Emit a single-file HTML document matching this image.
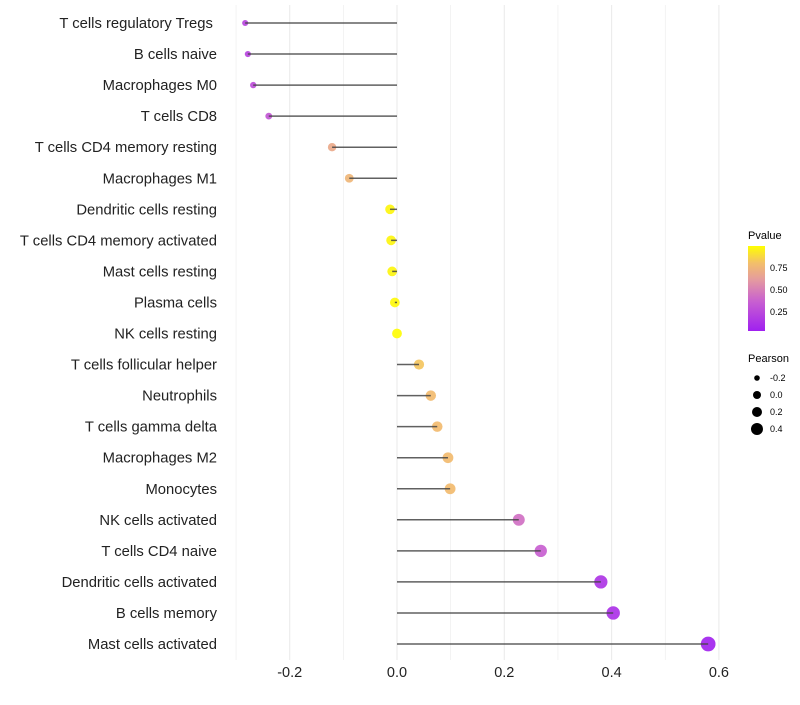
<!DOCTYPE html>
<html><head><meta charset="utf-8"><style>
body{margin:0;background:#fff;font-family:"Liberation Sans",sans-serif}
</style></head><body>
<svg id="chart" width="800" height="700" xmlns="http://www.w3.org/2000/svg">
<defs><linearGradient id="pg" x1="0" y1="1" x2="0" y2="0">
<stop offset="0" stop-color="#a020f0"/><stop offset="0.35" stop-color="#c860d0"/>
<stop offset="0.6" stop-color="#e49aa0"/><stop offset="0.8" stop-color="#f3bf6a"/><stop offset="1" stop-color="#ffff00"/>
</linearGradient></defs>
<g id="grid"></g><g id="points"></g><g id="marks"></g><g id="labels"></g>
<g font-size="10">
<text x="748" y="239" font-size="11">Pvalue</text>
<rect x="748" y="246" width="17" height="85" fill="url(#pg)"/>
<text x="770" y="271" font-size="9">0.75</text><text x="770" y="293" font-size="9">0.50</text><text x="770" y="315" font-size="9">0.25</text>
<text x="748" y="362" font-size="11">Pearson</text>
<circle cx="757" cy="378" r="2.8"/><text x="770" y="381" font-size="9">-0.2</text>
<circle cx="757" cy="395" r="4"/><text x="770" y="398" font-size="9">0.0</text>
<circle cx="757" cy="412" r="5"/><text x="770" y="415" font-size="9">0.2</text>
<circle cx="757" cy="429" r="6"/><text x="770" y="432" font-size="9">0.4</text>
</g>
</svg>
<script>
const categories=["T cells regulatory  Tregs\u00a0","B cells naive","Macrophages M0","T cells CD8","T cells CD4 memory resting","Macrophages M1","Dendritic cells resting","T cells CD4 memory activated","Mast cells resting","Plasma cells","NK cells resting","T cells follicular helper","Neutrophils","T cells gamma delta","Macrophages M2","Monocytes","NK cells activated","T cells CD4 naive","Dendritic cells activated","B cells memory","Mast cells activated"];
const pearson=[-0.283,-0.278,-0.268,-0.239,-0.121,-0.089,-0.013,-0.011,-0.009,-0.004,0.0,0.041,0.063,0.075,0.095,0.099,0.227,0.268,0.380,0.403,0.580];
const pvalues=[0.2,0.2,0.25,0.3,0.68,0.75,0.97,0.97,0.97,0.98,0.99,0.82,0.78,0.78,0.78,0.78,0.42,0.35,0.12,0.1,0.02];
const tickVals=[-0.2,0.0,0.2,0.4,0.6];
const tickLabels=["-0.2","0.0","0.2","0.4","0.6"];
const NS="http://www.w3.org/2000/svg";
const x=v=>397+v*536.5;
const y=i=>23+i*31.05;
const stops=[[0,[160,32,240]],[0.35,[200,96,208]],[0.6,[228,154,160]],[0.8,[243,191,106]],[1,[255,255,0]]];
function col(p){for(let k=1;k<stops.length;k++){if(p<=stops[k][0]){const a=stops[k-1],b=stops[k],t=(p-a[0])/(b[0]-a[0]);return "rgb("+a[1].map((c,j)=>Math.round(c+(b[1][j]-c)*t)).join(",")+")";}}return "rgb(255,255,0)";}
function mk(t,at,parent){const e=document.createElementNS(NS,t);for(const k in at)e.setAttribute(k,at[k]);document.getElementById(parent).appendChild(e);return e;}
for(let v=-0.3;v<=0.61;v+=0.1){const l=mk("line",{x1:x(v),x2:x(v),y1:5,y2:660,stroke:"#ebebeb","stroke-width":Math.abs(Math.round(v*10))%2===0?1.1:0.6},"grid");

}
tickVals.forEach((v,i)=>{const t=mk("text",{x:x(v),y:677,"text-anchor":"middle","font-size":14.5,fill:"#222"},"labels");t.textContent=tickLabels[i];

});
categories.forEach((c,i)=>{
const t=mk("text",{x:217,y:y(i)+5,"text-anchor":"end","font-size":14.8,fill:"#222"},"labels");t.textContent=c;


const r=Math.sqrt(Math.max(3,24+52*pearson[i]));
const cc=mk("circle",{cx:x(pearson[i]),cy:y(i),r:r,fill:col(pvalues[i]),"fill-opacity":0.92},"points");


const ln=mk("line",{x1:x(0),x2:x(pearson[i]),y1:y(i),y2:y(i),stroke:"#444","stroke-width":1.5,"stroke-opacity":0.85},"marks");


});
</script>
</body></html>
